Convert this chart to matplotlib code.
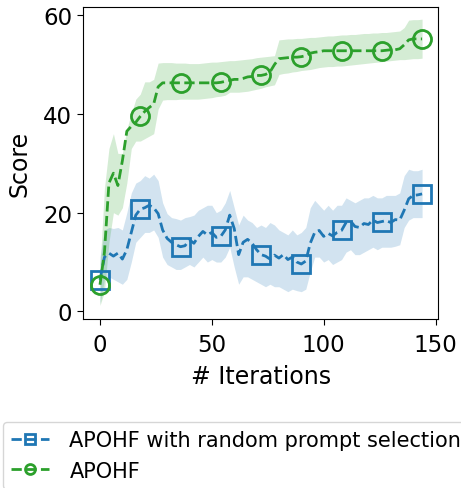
"""
Score along iterations for APOHF vs APOHF with random prompt selection
(mean curve + shaded spread).
"""

import numpy as np
import matplotlib
matplotlib.use("Agg")
import matplotlib.pyplot as plt

# %% Data (one value every 2 iterations)
iters = np.arange(0, 145, 2)

rand_mean = [
    6.4, 11.0, 11.8, 11.2, 11.8, 10.6, 12.5, 16.0, 19.5, 20.7,
    21.0, 21.5, 21.0, 19.8, 16.5, 14.8, 14.0, 13.5, 13.1, 13.3,
    14.5, 13.8, 15.2, 16.2, 15.5, 16.0, 15.0, 15.2, 16.5, 19.5,
    16.8, 11.5, 14.0, 14.6, 13.8, 12.5, 11.5, 11.2, 10.6, 11.4,
    10.8, 11.5, 10.5, 11.0, 10.0, 9.6, 10.2, 13.8, 16.0, 16.4,
    15.2, 15.8, 15.3, 16.0, 16.4, 18.0, 18.3, 17.2, 17.0, 17.8,
    17.6, 18.5, 18.0, 18.2, 18.4, 18.0, 18.6, 18.5, 20.5, 22.8,
    23.5, 23.6, 23.8,
]
rand_lo = [
    1.5, 6.5, 7.0, 6.5, 6.0, 5.5, 6.5, 10.0, 14.0, 15.0,
    16.0, 16.0, 16.5, 15.0, 11.0, 9.5, 9.0, 8.5, 8.5, 9.0,
    9.5, 9.0, 10.0, 11.0, 10.0, 10.5, 10.0, 10.0, 11.0, 13.0,
    9.0, 5.5, 7.0, 7.0, 6.5, 6.0, 5.5, 5.0, 5.5, 5.0,
    5.0, 4.5, 4.0, 4.5, 4.2, 4.0, 4.5, 8.0, 11.0, 11.0,
    10.0, 10.5, 9.5, 10.0, 10.5, 12.0, 12.5, 11.5, 11.5, 12.0,
    12.5, 13.0, 12.5, 13.0, 13.0, 13.0, 13.2, 13.5, 17.0, 18.5,
    19.0, 19.0, 19.0,
]
rand_hi = [
    11.0, 16.5, 17.0, 16.8, 17.0, 16.5, 20.0, 24.0, 26.0, 26.5,
    27.5, 27.0, 27.8, 26.5, 22.0, 19.8, 19.0, 18.8, 18.5, 19.0,
    19.2, 19.5, 20.5, 21.0, 21.5, 21.5, 20.0, 20.5, 22.0, 24.5,
    21.0, 17.5, 19.5, 18.5, 18.0, 17.0, 17.5, 17.0, 18.0, 17.5,
    16.5, 16.0, 15.5, 16.5, 15.5, 16.0, 17.0, 21.0, 22.5, 21.5,
    20.5, 21.5, 20.5, 21.5, 21.5, 23.0, 22.5, 22.0, 22.5, 23.0,
    23.0, 23.5, 23.0, 23.0, 23.5, 23.5, 23.5, 24.0, 27.5, 28.8,
    28.5, 28.5, 28.8,
]

apohf_mean = [
    5.4, 12.0, 26.0, 28.0, 25.5, 30.5, 36.5, 37.5, 38.3, 39.5,
    40.5, 41.3, 42.0, 45.5, 46.3, 46.3, 46.3, 46.3, 46.3, 46.3,
    46.3, 46.3, 46.3, 46.3, 46.3, 46.3, 46.3, 46.4, 46.6, 46.8,
    47.0, 47.0, 47.2, 47.5, 47.6, 47.8, 47.8, 48.0, 48.5, 50.0,
    51.2, 51.3, 51.4, 51.5, 51.5, 51.6, 51.8, 52.3, 52.5, 52.6,
    52.8, 52.8, 52.8, 52.8, 52.8, 52.8, 52.8, 52.8, 52.8, 52.8,
    52.8, 52.8, 52.8, 52.8, 52.9, 53.0, 53.0, 53.2, 54.0, 55.0,
    55.2, 55.2, 55.2,
]
apohf_lo = [
    1.2, 4.0, 14.0, 20.0, 19.5, 21.0, 26.0, 33.0, 34.5, 34.5,
    35.0, 35.5, 36.0, 41.0, 42.8, 42.9, 42.9, 42.9, 43.0, 43.0,
    43.0, 43.0, 43.0, 43.1, 43.2, 43.3, 43.5, 43.6, 43.8, 44.4,
    44.4, 44.4, 44.5, 44.6, 44.8, 45.0, 45.2, 45.5, 45.7, 45.9,
    48.0, 48.2, 48.3, 48.5, 48.6, 48.8, 48.9, 49.0, 49.2, 49.4,
    49.5, 49.6, 49.6, 49.7, 49.7, 49.8, 49.9, 50.0, 50.1, 50.2,
    50.3, 50.4, 50.5, 50.6, 50.7, 50.8, 50.9, 51.0, 51.0, 51.1,
    51.2, 51.2, 51.3,
]
apohf_hi = [
    9.0, 25.0, 33.0, 36.0, 32.0, 32.0, 37.0, 40.0, 43.0, 44.0,
    46.5, 46.5, 47.0, 50.3, 50.4, 50.4, 50.4, 50.3, 50.3, 50.3,
    50.2, 50.2, 50.2, 50.3, 50.4, 50.5, 50.5, 50.6, 50.7, 50.8,
    50.8, 50.9, 51.0, 51.1, 51.2, 51.4, 51.5, 51.6, 51.7, 51.8,
    55.0, 55.1, 55.2, 55.2, 55.3, 55.3, 55.4, 55.5, 55.5, 55.6,
    55.7, 55.8, 55.8, 55.9, 56.0, 56.0, 56.1, 56.1, 56.2, 56.3,
    56.3, 56.4, 56.4, 56.5, 56.5, 56.6, 56.7, 56.8, 57.5, 59.0,
    59.1, 59.1, 59.2,
]

series = [
    ("APOHF with random prompt selection", rand_mean, rand_lo, rand_hi, "tab:blue", "s"),
    ("APOHF", apohf_mean, apohf_lo, apohf_hi, "tab:green", "o"),
]

# %% Plotting params
LW = 2.0
MS = 13
MEW = 2.0
MARKEVERY = 9  # a marker every 18 iterations
FS_TICK = 16.5
FS_LABEL = 17
FS_LEGEND = 15

fig = plt.figure(figsize=(4.61, 4.89), dpi=100)
ax = fig.add_axes([0.181, 0.346, 0.770, 0.638])

for label, mean, lo, hi, c, m in series:
    ax.fill_between(iters, lo, hi, color=c, alpha=0.2, lw=0)
    ax.plot(iters, mean, "--", c=c, lw=LW, marker=m, ms=MS, mew=MEW,
            fillstyle="none", markevery=MARKEVERY, label=label)

ax.set_xlim(-7.4, 151.3)
ax.set_ylim(-1.5, 61.7)
ax.set_xticks([0, 50, 100, 150])
ax.set_yticks([0, 20, 40, 60])
ax.tick_params(labelsize=FS_TICK, length=4.5)
ax.tick_params(axis="x", pad=5.5)
ax.set_xlabel("# Iterations", fontsize=FS_LABEL, labelpad=6)
ax.set_ylabel("Score", fontsize=FS_LABEL, labelpad=8.5)

fig.legend(loc="upper left", bbox_to_anchor=(0.006, 0.135), borderaxespad=0,
           fontsize=FS_LEGEND, handlelength=1.8, handletextpad=1.0,
           markerscale=0.55)

fig.savefig("out.png", dpi=100)
